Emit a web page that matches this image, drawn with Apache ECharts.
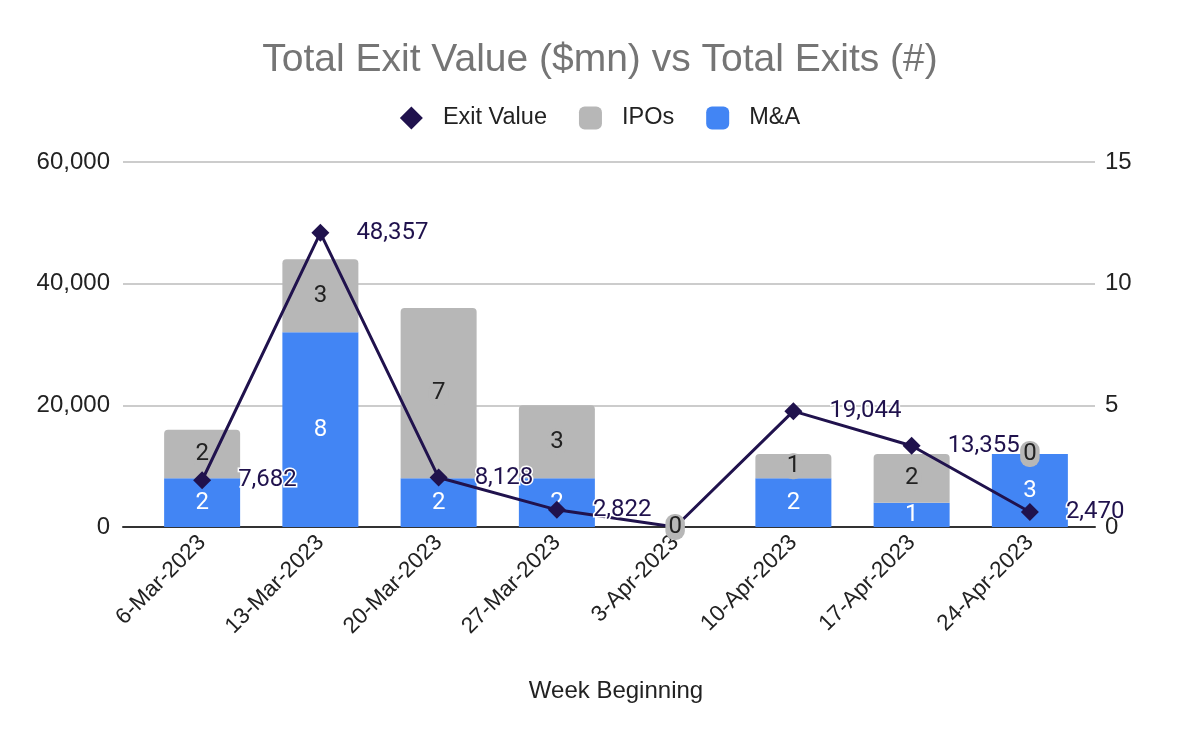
<!DOCTYPE html>
<html><head><meta charset="utf-8">
<script src="https://cdn.jsdelivr.net/npm/echarts@6/dist/echarts.min.js"></script>
<style>html,body{margin:0;padding:0;background:#fff}#c{width:1200px;height:742px}</style>
</head><body><div id="c"></div>
<script>
var categories = ['6-Mar-2023','13-Mar-2023','20-Mar-2023','27-Mar-2023','3-Apr-2023','10-Apr-2023','17-Apr-2023','24-Apr-2023'];
var exitValue = [7682, 48357, 8128, 2822, 0, 19044, 13355, 2470];
var ipos = [2, 3, 7, 3, 0, 1, 2, 0];
var mna = [2, 8, 2, 2, 0, 2, 1, 3];

var AX = 'Liberation Sans';
var chart = echarts.init(document.getElementById('c'));
var fmt = function(v){ return echarts.format.addCommas(v); };
var zeroPill = { backgroundColor: '#b7b7b7', borderRadius: 9, padding: [1, 3], color: '#222' };

var iposData = ipos.map(function(v, i){
  return (v === 0 && mna[i] === 0) ? { value: v, label: { show: false } } : v;
});
var exitData = exitValue.map(function(v){
  return v === 0 ? { value: v, label: Object.assign({ position: 'inside', textBorderWidth: 0 }, zeroPill) } : v;
});

chart.setOption({
  animation: false,
  textStyle: { fontFamily: AX },
  title: { text: 'Total Exit Value ($mn) vs Total Exits (#)', left: 'center', top: 36,
    textStyle: { fontFamily: AX, fontSize: 39, fontWeight: 'normal', color: '#757575' } },
  legend: { top: 101, left: 'center', itemGap: 32, itemWidth: 23, itemHeight: 23,
    data: [{name:'Exit Value', icon:'diamond'}, {name:'IPOs', icon:'roundRect'}, {name:'M&A', icon:'roundRect'}],
    textStyle: { fontFamily: AX, fontSize: 23.5, color: '#222', padding: [0, 0, 0, 15] } },
  grid: [
    { left: 143, right: 111, top: 162, bottom: 215 },
    { left: 123, right: 105, top: 162, bottom: 215 }
  ],
  xAxis: [
    { type: 'category', data: categories, gridIndex: 0,
      name: 'Week Beginning', nameLocation: 'middle', nameGap: 152,
      nameTextStyle: { fontFamily: AX, fontSize: 24, color: '#222' },
      axisTick: { show: false }, axisLine: { show: false },
      axisLabel: { rotate: 45, fontFamily: AX, fontSize: 22.5, color: '#222', margin: 12, interval: 0 } },
    { type: 'value', gridIndex: 1, min: 0, max: 1, show: true,
      axisLabel: { show: false }, axisTick: { show: false }, splitLine: { show: false },
      axisLine: { show: true, onZero: false, lineStyle: { color: '#333', width: 2 } }, z: 3 }
  ],
  yAxis: [
    { type: 'value', gridIndex: 0, min: 0, max: 60000, interval: 20000,
      axisLabel: { formatter: fmt, fontFamily: AX, fontSize: 24, color: '#222', margin: 33 },
      splitLine: { show: false }, axisLine: { show: false }, axisTick: { show: false } },
    { type: 'value', gridIndex: 0, min: 0, max: 15, interval: 5,
      axisLabel: { fontFamily: AX, fontSize: 24, color: '#222', margin: 16 },
      splitLine: { show: false }, axisLine: { show: false }, axisTick: { show: false } },
    { type: 'value', gridIndex: 1, min: 0, max: 60000, interval: 20000,
      axisLabel: { show: false }, axisLine: { show: false }, axisTick: { show: false },
      splitLine: { lineStyle: { color: '#cccccc', width: 2 } } }
  ],
  series: [
    { name: 'M&A', type: 'bar', stack: 'exits', xAxisIndex: 0, yAxisIndex: 1, data: mna, barWidth: 76, z: 4,
      itemStyle: { color: '#4285f4' },
      label: { show: true, position: 'inside', fontFamily: 'Roboto', fontSize: 24, color: '#fff',
        formatter: function(p){ return p.value === 0 ? '' : p.value; } } },
    { name: 'IPOs', type: 'bar', stack: 'exits', xAxisIndex: 0, yAxisIndex: 1, data: iposData, barWidth: 76, z: 4,
      itemStyle: { color: '#b7b7b7', borderRadius: [4,4,0,0] },
      label: Object.assign({ show: true, position: 'inside', fontFamily: 'Roboto', fontSize: 24 }, zeroPill) },
    { name: 'Exit Value', type: 'line', xAxisIndex: 0, yAxisIndex: 0, data: exitData, z: 6,
      symbol: 'diamond', symbolSize: 18,
      lineStyle: { color: '#20124d', width: 3 }, itemStyle: { color: '#20124d' },
      label: { show: true, position: 'right', distance: 27, fontFamily: 'Roboto', fontSize: 24, color: '#20124d',
        textBorderColor: '#fff', textBorderWidth: 3,
        formatter: function(p){ return fmt(p.value); } } }
  ]
});
</script></body></html>
